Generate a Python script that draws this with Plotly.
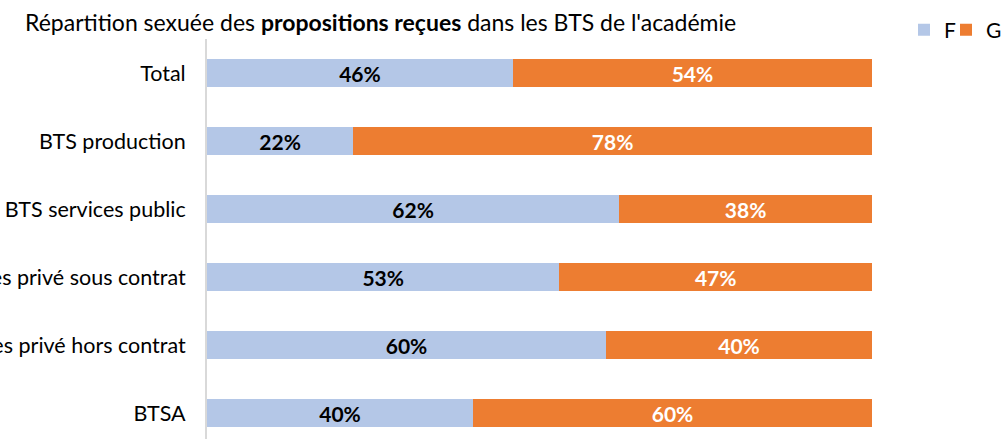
import plotly.graph_objects as go

categories = ["Total", "BTS production", "BTS services public",
              "BTS services privé sous contrat", "BTS services privé hors contrat", "BTSA"]
f_values = [46, 22, 62, 53, 60, 40]
g_values = [54, 78, 38, 47, 40, 60]
series_names = ["F", "G"]

FONT = "Lato, Carlito, Calibri, sans-serif"

fig = go.Figure()
fig.add_trace(go.Bar(
    y=categories, x=f_values, name=series_names[0], orientation="h",
    marker=dict(color="#B4C7E7", line=dict(width=0)),
    text=[f"{v}%" for v in f_values], textposition="inside", insidetextanchor="middle",
    textfont=dict(family=FONT, size=21, color="black", weight="bold"),
    width=0.4, legend="legend", showlegend=True,
))
fig.add_trace(go.Bar(
    y=categories, x=g_values, name=series_names[1], orientation="h",
    marker=dict(color="#ED7D31", line=dict(width=0)),
    text=[f"{v}%" for v in g_values], textposition="inside", insidetextanchor="middle",
    textfont=dict(family=FONT, size=21, color="white", weight="bold"),
    width=0.4, legend="legend2", showlegend=True,
))

legend_common = dict(orientation="h", xanchor="left", y=1 - 30/439, yanchor="middle",
                     yref="container", xref="container",
                     font=dict(family=FONT, size=21), itemwidth=30,
                     bgcolor="rgba(0,0,0,0)", visible=True)

fig.update_layout(
    barmode="stack",
    showlegend=True,
    width=1005, height=439,
    margin=dict(l=207, r=133, t=39, b=0, autoexpand=False),
    paper_bgcolor="white", plot_bgcolor="white",
    font=dict(family=FONT, size=21, color="black"),
    title=dict(
        text="Répartition sexuée des <b>propositions reçues</b> dans les BTS de l'académie",
        x=25/1005, xanchor="left", y=1 - 23/439, yanchor="middle",
        font=dict(family=FONT, size=23, color="black"),
    ),
    legend=dict(x=904/1005, **legend_common),
    legend2=dict(x=946/1005, **legend_common),
    uniformtext=dict(minsize=21, mode="show"),
)
fig.update_xaxes(range=[0, 100], visible=False, showgrid=False, fixedrange=True)
fig.update_yaxes(
    type="category", categoryorder="array", categoryarray=categories,
    range=[5 + 26/68, -0.5], showgrid=False, fixedrange=True,
    showline=True, linecolor="#D9D9D9", linewidth=2,
    ticks="", ticklabelstandoff=15,
    tickfont=dict(family=FONT, size=21.5, color="black"),
    automargin=False,
)

fig.write_html("out.html", config={"displayModeBar": False},
               post_script="document.body.style.margin='0';")
